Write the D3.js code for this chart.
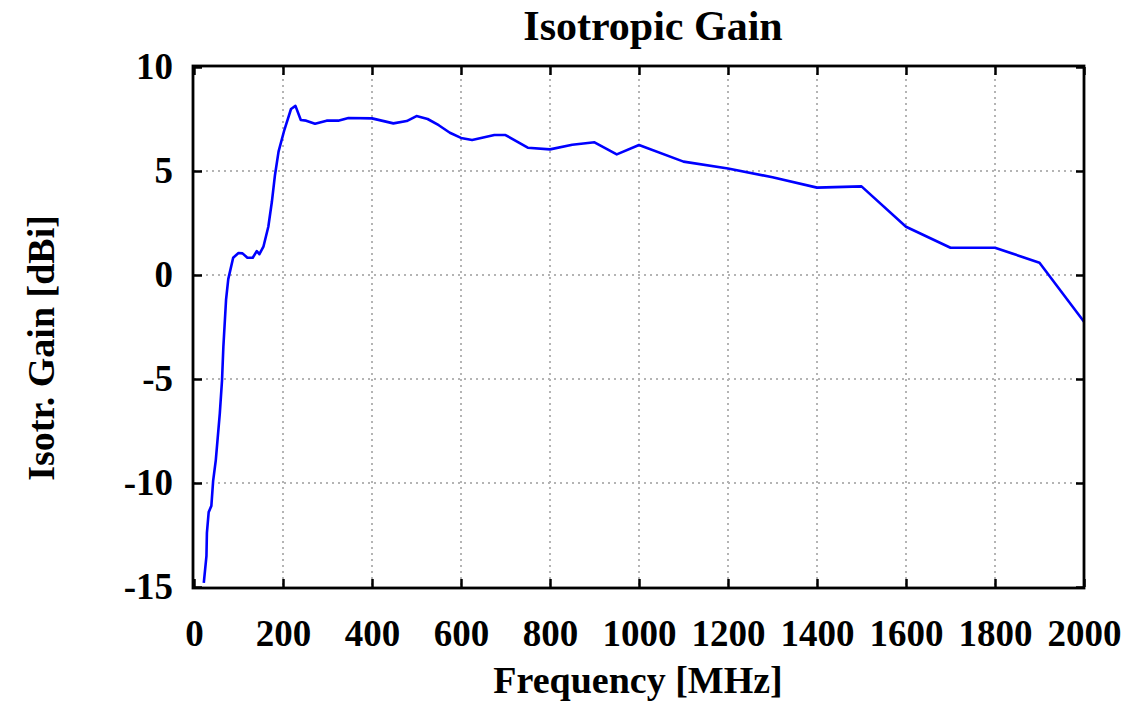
<!DOCTYPE html>
<html>
<head>
<meta charset="utf-8">
<script src="https://cdn.jsdelivr.net/npm/d3@7"></script>
<style>
  body { margin: 0; background: #fff; }
  text { font-family: "Liberation Serif", "Times New Roman", serif; font-weight: bold; fill: #000; }
</style>
</head>
<body>
<svg id="chart" width="1133" height="704"></svg>
<script>
// frequency in MHz, gain in dBi
var freq = [22, 28, 29, 33, 39, 43, 49, 58, 63, 66, 72, 77, 88, 100, 109, 120, 132, 141, 147, 156,
  167, 175, 182, 190, 203, 218, 228, 240, 252, 272, 298, 324, 347, 400, 448, 478, 500, 525, 550, 575,
  600, 625, 675, 700, 750, 800, 850, 900, 950, 1000, 1100, 1200, 1300, 1400, 1500, 1600, 1700, 1800, 1900, 2000];
var gain = [-14.8, -13.5, -12.4, -11.4, -11.1, -9.9, -8.9, -6.65, -5.05, -3.45, -1.2, -0.2, 0.83, 1.06, 1.04, 0.83, 0.83, 1.15, 1.0, 1.36,
  2.32, 3.52, 4.81, 5.93, 6.97, 7.98, 8.13, 7.45, 7.42, 7.27, 7.42, 7.42, 7.55, 7.53, 7.29, 7.4, 7.64, 7.5, 7.2, 6.84,
  6.59, 6.49, 6.73, 6.73, 6.12, 6.04, 6.26, 6.38, 5.8, 6.25, 5.45, 5.12, 4.7, 4.2, 4.26, 2.32, 1.31, 1.31, 0.59, -2.25];
var xTicks = [0, 200, 400, 600, 800, 1000, 1200, 1400, 1600, 1800, 2000];
var yTicks = [-15, -10, -5, 0, 5, 10];

var svg = d3.select("#chart");
var plotLeft = 194, plotRight = 1084, plotTop = 67, plotBottom = 587;

var x = d3.scaleLinear().domain([0, 2000]).range([plotLeft, plotRight]);
var y = d3.scaleLinear().domain([-15, 10]).range([plotBottom, plotTop]);

// grid
svg.append("g").selectAll("line")
    .data(xTicks.slice(1, -1))
  .enter().append("line")
    .attr("x1", function(d) { return x(d); })
    .attr("x2", function(d) { return x(d); })
    .attr("y1", plotTop).attr("y2", plotBottom)
    .attr("stroke", "#b4b4b4").attr("stroke-width", 2).attr("stroke-dasharray", "2,4");
svg.append("g").selectAll("line")
    .data(yTicks.slice(1, -1))
  .enter().append("line")
    .attr("y1", function(d) { return y(d); })
    .attr("y2", function(d) { return y(d); })
    .attr("x1", plotLeft).attr("x2", plotRight)
    .attr("stroke", "#b4b4b4").attr("stroke-width", 2).attr("stroke-dasharray", "2,4");

// data line
svg.append("path")
    .datum(d3.zip(freq, gain))
    .attr("fill", "none")
    .attr("stroke", "#0000ff")
    .attr("stroke-width", 2.6)
    .attr("stroke-linejoin", "round")
    .attr("d", d3.line().x(function(d) { return x(d[0]); }).y(function(d) { return y(d[1]); }));

// axes: ticks inward on all four sides, plain hyphen for negatives
var fontSize = 37;
var plain = function(d) { return String(d); };
svg.append("g").attr("transform", "translate(0," + plotBottom + ")")
    .call(d3.axisBottom(x).tickValues(xTicks).tickSize(-8).tickPadding(33).tickFormat(plain));
svg.append("g").attr("transform", "translate(0," + plotTop + ")")
    .call(d3.axisTop(x).tickValues(xTicks).tickSize(-8).tickFormat(""));
svg.append("g").attr("transform", "translate(" + plotLeft + ",0)")
    .call(d3.axisLeft(y).tickValues(yTicks).tickSize(-8).tickPadding(21).tickFormat(plain));
svg.append("g").attr("transform", "translate(" + plotRight + ",0)")
    .call(d3.axisRight(y).tickValues(yTicks).tickSize(-8).tickFormat(""));

svg.selectAll(".domain").remove();
svg.selectAll(".tick line").attr("stroke", "#000").attr("stroke-width", 2.5);
svg.selectAll(".tick text")
    .style("font-family", "'Liberation Serif', 'Times New Roman', serif")
    .style("font-weight", "bold")
    .style("font-size", fontSize + "px")
    .attr("fill", "#000");

// frame
svg.append("rect")
    .attr("x", plotLeft - 1).attr("y", plotTop - 1)
    .attr("width", plotRight - plotLeft + 1).attr("height", plotBottom - plotTop + 2)
    .attr("fill", "none").attr("stroke", "#000").attr("stroke-width", 2.8);

// titles
svg.append("text")
    .attr("x", 653).attr("y", 40)
    .attr("text-anchor", "middle")
    .style("font-size", "42px")
    .text("Isotropic Gain");

svg.append("text")
    .attr("x", 638).attr("y", 693)
    .attr("text-anchor", "middle")
    .style("font-size", "38px")
    .text("Frequency [MHz]");

svg.append("text")
    .attr("transform", "translate(54,348) rotate(-90)")
    .attr("text-anchor", "middle")
    .style("font-size", "38px")
    .text("Isotr. Gain [dBi]");
</script>
</body>
</html>
